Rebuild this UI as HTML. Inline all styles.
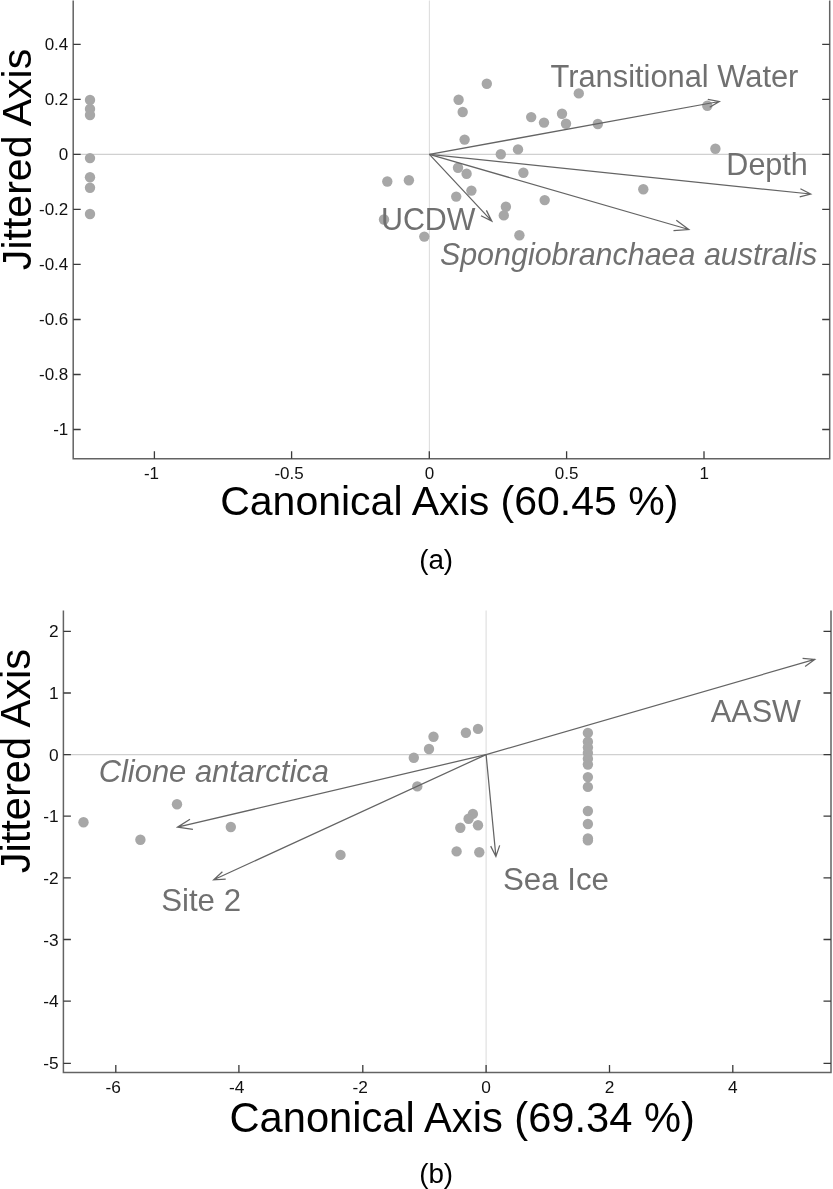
<!DOCTYPE html>
<html><head><meta charset="utf-8"><title>Canonical axis plots</title>
<style>html,body{margin:0;padding:0;background:#fff;width:833px;height:1189px;overflow:hidden}svg{display:block;filter:blur(0.3px)}</style>
</head><body>
<svg width="833" height="1189" viewBox="0 0 833 1189" font-family="Liberation Sans, Arial, Helvetica, sans-serif">
<rect width="833" height="1189" fill="#fff"/>
<path d="M73.2,154.4 H829.7" fill="none" stroke="#d0d0d0" stroke-width="1.1"/>
<path d="M429.4,0.5 V458.7" fill="none" stroke="#dedede" stroke-width="1.1"/>
<circle cx="90" cy="100" r="5.2" fill="#a7a7a7"/>
<circle cx="90" cy="109" r="5.2" fill="#a7a7a7"/>
<circle cx="90" cy="115" r="5.2" fill="#a7a7a7"/>
<circle cx="90" cy="158.1" r="5.2" fill="#a7a7a7"/>
<circle cx="90" cy="177.2" r="5.2" fill="#a7a7a7"/>
<circle cx="90" cy="187.7" r="5.2" fill="#a7a7a7"/>
<circle cx="90" cy="214.0" r="5.2" fill="#a7a7a7"/>
<circle cx="387.3" cy="181.5" r="5.2" fill="#a7a7a7"/>
<circle cx="408.9" cy="180.3" r="5.2" fill="#a7a7a7"/>
<circle cx="384" cy="219.5" r="5.2" fill="#a7a7a7"/>
<circle cx="424.3" cy="236.6" r="5.2" fill="#a7a7a7"/>
<circle cx="486.8" cy="83.8" r="5.2" fill="#a7a7a7"/>
<circle cx="458.6" cy="99.8" r="5.2" fill="#a7a7a7"/>
<circle cx="462.7" cy="112.0" r="5.2" fill="#a7a7a7"/>
<circle cx="464.6" cy="139.6" r="5.2" fill="#a7a7a7"/>
<circle cx="500.8" cy="154.3" r="5.2" fill="#a7a7a7"/>
<circle cx="518" cy="149.4" r="5.2" fill="#a7a7a7"/>
<circle cx="458.0" cy="167.8" r="5.2" fill="#a7a7a7"/>
<circle cx="466.6" cy="173.8" r="5.2" fill="#a7a7a7"/>
<circle cx="471.4" cy="190.6" r="5.2" fill="#a7a7a7"/>
<circle cx="456.2" cy="196.6" r="5.2" fill="#a7a7a7"/>
<circle cx="505.9" cy="206.7" r="5.2" fill="#a7a7a7"/>
<circle cx="503.8" cy="215.4" r="5.2" fill="#a7a7a7"/>
<circle cx="519.4" cy="235.3" r="5.2" fill="#a7a7a7"/>
<circle cx="523.4" cy="172.8" r="5.2" fill="#a7a7a7"/>
<circle cx="578.8" cy="93.4" r="5.2" fill="#a7a7a7"/>
<circle cx="531.2" cy="117.1" r="5.2" fill="#a7a7a7"/>
<circle cx="544.0" cy="122.6" r="5.2" fill="#a7a7a7"/>
<circle cx="562.0" cy="113.8" r="5.2" fill="#a7a7a7"/>
<circle cx="566.0" cy="123.8" r="5.2" fill="#a7a7a7"/>
<circle cx="597.8" cy="124.0" r="5.2" fill="#a7a7a7"/>
<circle cx="707.3" cy="105.8" r="5.2" fill="#a7a7a7"/>
<circle cx="715.4" cy="148.7" r="5.2" fill="#a7a7a7"/>
<circle cx="643.3" cy="189.3" r="5.2" fill="#a7a7a7"/>
<circle cx="544.7" cy="200.1" r="5.2" fill="#a7a7a7"/>
<path d="M429.4,154.4 L719.3,101.5 M707.8,99.3 L719.3,101.5 L709.7,107.2" fill="none" stroke="#646464" stroke-width="1.25" stroke-linejoin="miter"/>
<path d="M429.4,154.4 L810.7,194.0 M800.4,188.8 L810.7,194.0 L799.7,196.9" fill="none" stroke="#646464" stroke-width="1.25" stroke-linejoin="miter"/>
<path d="M429.4,154.4 L688.8,229.5 M676.3,220.3 L688.8,229.5 L673.5,230.7" fill="none" stroke="#646464" stroke-width="1.25" stroke-linejoin="miter"/>
<path d="M429.4,154.4 L491.8,221.1 M481.0,215.8 L491.8,221.1 L486.4,210.4" fill="none" stroke="#646464" stroke-width="1.25" stroke-linejoin="miter"/>
<path d="M73.2,0.5 V458.7 H829.7 V0.5" fill="none" stroke="#636363" stroke-width="1.5"/>
<path d="M154.4,458.7 v-7.5 M291.6,458.7 v-7.5 M429.3,458.7 v-7.5 M566.6,458.7 v-7.5 M704.0,458.7 v-7.5 M73.2,44.3 h7.5 M829.7,44.3 h-7.5 M73.2,99.35 h7.5 M829.7,99.35 h-7.5 M73.2,154.4 h7.5 M829.7,154.4 h-7.5 M73.2,209.4 h7.5 M829.7,209.4 h-7.5 M73.2,264.45 h7.5 M829.7,264.45 h-7.5 M73.2,319.5 h7.5 M829.7,319.5 h-7.5 M73.2,374.5 h7.5 M829.7,374.5 h-7.5 M73.2,429.5 h7.5 M829.7,429.5 h-7.5 " fill="none" stroke="#3a3a3a" stroke-width="1.3"/>
<text x="68.3" y="50.25" font-size="17" text-anchor="end" fill="#111">0.4</text>
<text x="68.3" y="105.30" font-size="17" text-anchor="end" fill="#111">0.2</text>
<text x="68.3" y="160.35" font-size="17" text-anchor="end" fill="#111">0</text>
<text x="68.3" y="215.35" font-size="17" text-anchor="end" fill="#111">-0.2</text>
<text x="68.3" y="270.40" font-size="17" text-anchor="end" fill="#111">-0.4</text>
<text x="68.3" y="325.45" font-size="17" text-anchor="end" fill="#111">-0.6</text>
<text x="68.3" y="380.45" font-size="17" text-anchor="end" fill="#111">-0.8</text>
<text x="68.3" y="435.45" font-size="17" text-anchor="end" fill="#111">-1</text>
<text x="151.5" y="478.8" font-size="17" text-anchor="middle" fill="#111">-1</text>
<text x="289.1" y="478.8" font-size="17" text-anchor="middle" fill="#111">-0.5</text>
<text x="429.4" y="478.8" font-size="17" text-anchor="middle" fill="#111">0</text>
<text x="566.65" y="478.8" font-size="17" text-anchor="middle" fill="#111">0.5</text>
<text x="704.15" y="478.8" font-size="17" text-anchor="middle" fill="#111">1</text>
<text x="550.53" y="86.80" font-size="30.84" fill="#707070">Transitional Water</text>
<text x="726.36" y="174.80" font-size="30.50" fill="#707070">Depth</text>
<text x="380.92" y="230.00" font-size="30.43" fill="#707070">UCDW</text>
<text x="439.89" y="264.70" font-size="30.45" font-style="italic" fill="#707070">Spongiobranchaea australis</text>
<text x="220.15" y="515.30" font-size="41.03" fill="#000">Canonical Axis (60.45 %)</text>
<text x="31.20" y="270.12" font-size="41.07" fill="#000" transform="rotate(-90 31.20 270.12)">Jittered Axis</text>
<text x="419.13" y="569.30" font-size="27.82" fill="#000">(a)</text>
<path d="M63.4,754.6 H831.0" fill="none" stroke="#d0d0d0" stroke-width="1.1"/>
<path d="M486.1,610.6 V1072.4" fill="none" stroke="#dedede" stroke-width="1.1"/>
<circle cx="83.5" cy="822.2" r="5.2" fill="#a7a7a7"/>
<circle cx="140.4" cy="839.8" r="5.2" fill="#a7a7a7"/>
<circle cx="177.0" cy="804.2" r="5.2" fill="#a7a7a7"/>
<circle cx="230.8" cy="827.0" r="5.2" fill="#a7a7a7"/>
<circle cx="340.5" cy="854.9" r="5.2" fill="#a7a7a7"/>
<circle cx="433.5" cy="736.7" r="5.2" fill="#a7a7a7"/>
<circle cx="429.0" cy="749.0" r="5.2" fill="#a7a7a7"/>
<circle cx="413.8" cy="757.8" r="5.2" fill="#a7a7a7"/>
<circle cx="465.9" cy="732.7" r="5.2" fill="#a7a7a7"/>
<circle cx="478.0" cy="728.9" r="5.2" fill="#a7a7a7"/>
<circle cx="417.3" cy="786.4" r="5.2" fill="#a7a7a7"/>
<circle cx="472.9" cy="813.9" r="5.2" fill="#a7a7a7"/>
<circle cx="468.6" cy="818.7" r="5.2" fill="#a7a7a7"/>
<circle cx="478.0" cy="825.2" r="5.2" fill="#a7a7a7"/>
<circle cx="460.3" cy="827.7" r="5.2" fill="#a7a7a7"/>
<circle cx="456.6" cy="851.4" r="5.2" fill="#a7a7a7"/>
<circle cx="479.3" cy="852.3" r="5.2" fill="#a7a7a7"/>
<circle cx="587.9" cy="732.9" r="5.2" fill="#a7a7a7"/>
<circle cx="587.9" cy="741.8" r="5.2" fill="#a7a7a7"/>
<circle cx="587.9" cy="747.5" r="5.2" fill="#a7a7a7"/>
<circle cx="587.9" cy="753.0" r="5.2" fill="#a7a7a7"/>
<circle cx="587.9" cy="758.7" r="5.2" fill="#a7a7a7"/>
<circle cx="587.9" cy="764.5" r="5.2" fill="#a7a7a7"/>
<circle cx="587.9" cy="777.1" r="5.2" fill="#a7a7a7"/>
<circle cx="587.9" cy="786.9" r="5.2" fill="#a7a7a7"/>
<circle cx="587.9" cy="811.0" r="5.2" fill="#a7a7a7"/>
<circle cx="587.9" cy="824.0" r="5.2" fill="#a7a7a7"/>
<circle cx="587.9" cy="838.4" r="5.2" fill="#a7a7a7"/>
<circle cx="587.9" cy="840.4" r="5.2" fill="#a7a7a7"/>
<path d="M486.1,754.6 L814.7,659.4 M802.6,658.4 L814.7,659.4 L805.1,666.4" fill="none" stroke="#646464" stroke-width="1.25" stroke-linejoin="miter"/>
<path d="M486.1,754.6 L177.5,827.2 M190.0,819.3 L177.5,827.2 L192.9,829.4" fill="none" stroke="#646464" stroke-width="1.25" stroke-linejoin="miter"/>
<path d="M486.1,754.6 L213.7,879.8 M222.4,871.7 L213.7,879.8 L225.7,879.1" fill="none" stroke="#646464" stroke-width="1.25" stroke-linejoin="miter"/>
<path d="M486.1,754.6 L495.9,856.5 M490.7,846.1 L495.9,856.5 L499.7,845.4" fill="none" stroke="#646464" stroke-width="1.25" stroke-linejoin="miter"/>
<path d="M63.4,610.6 V1072.4 H831.0 V610.6" fill="none" stroke="#636363" stroke-width="1.5"/>
<path d="M115.8,1072.4 v-7.5 M238.9,1072.4 v-7.5 M362.8,1072.4 v-7.5 M486.1,1072.4 v-7.5 M609.5,1072.4 v-7.5 M732.8,1072.4 v-7.5 M63.4,631.4 h7.5 M831.0,631.4 h-7.5 M63.4,693.0 h7.5 M831.0,693.0 h-7.5 M63.4,754.6 h7.5 M831.0,754.6 h-7.5 M63.4,816.2 h7.5 M831.0,816.2 h-7.5 M63.4,877.8 h7.5 M831.0,877.8 h-7.5 M63.4,939.5 h7.5 M831.0,939.5 h-7.5 M63.4,1001.1 h7.5 M831.0,1001.1 h-7.5 M63.4,1063.3 h7.5 M831.0,1063.3 h-7.5 " fill="none" stroke="#3a3a3a" stroke-width="1.3"/>
<text x="58.6" y="637.45" font-size="17.3" text-anchor="end" fill="#111">2</text>
<text x="58.6" y="699.05" font-size="17.3" text-anchor="end" fill="#111">1</text>
<text x="58.6" y="760.65" font-size="17.3" text-anchor="end" fill="#111">0</text>
<text x="58.6" y="822.25" font-size="17.3" text-anchor="end" fill="#111">-1</text>
<text x="58.6" y="883.85" font-size="17.3" text-anchor="end" fill="#111">-2</text>
<text x="58.6" y="945.55" font-size="17.3" text-anchor="end" fill="#111">-3</text>
<text x="58.6" y="1007.15" font-size="17.3" text-anchor="end" fill="#111">-4</text>
<text x="58.6" y="1069.36" font-size="17.3" text-anchor="end" fill="#111">-5</text>
<text x="113.1" y="1092.8" font-size="17.3" text-anchor="middle" fill="#111">-6</text>
<text x="236.6" y="1092.8" font-size="17.3" text-anchor="middle" fill="#111">-4</text>
<text x="360.3" y="1092.8" font-size="17.3" text-anchor="middle" fill="#111">-2</text>
<text x="486.1" y="1092.8" font-size="17.3" text-anchor="middle" fill="#111">0</text>
<text x="609.5" y="1092.8" font-size="17.3" text-anchor="middle" fill="#111">2</text>
<text x="732.8" y="1092.8" font-size="17.3" text-anchor="middle" fill="#111">4</text>
<text x="710.75" y="721.50" font-size="30.66" fill="#707070">AASW</text>
<text x="98.70" y="781.70" font-size="30.92" font-style="italic" fill="#707070">Clione antarctica</text>
<text x="161.20" y="911.00" font-size="31.22" fill="#707070">Site 2</text>
<text x="502.99" y="890.30" font-size="31.27" fill="#707070">Sea Ice</text>
<text x="229.52" y="1131.50" font-size="41.66" fill="#000">Canonical Axis (69.34 %)</text>
<text x="29.70" y="873.32" font-size="41.63" fill="#000" transform="rotate(-90 29.70 873.32)">Jittered Axis</text>
<text x="419.13" y="1182.80" font-size="27.82" fill="#000">(b)</text>
</svg>
</body></html>
